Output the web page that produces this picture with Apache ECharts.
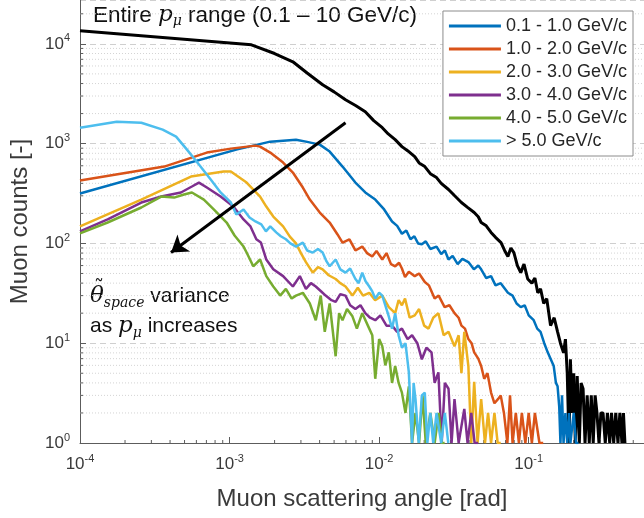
<!DOCTYPE html>
<html>
<head>
<meta charset="utf-8">
<script src="https://cdn.jsdelivr.net/npm/echarts@6/dist/echarts.min.js"></script>
<style>
  html, body { margin: 0; padding: 0; background: #fff; }
  #main { width: 644px; height: 518px; }
</style>
</head>
<body>
<div id="main"></div>
<script>
var dom = document.getElementById('main');
var myChart = echarts.init(dom);

// [scattering angle (rad), muon counts]
var entireRange = [[1.0e-4,13490],[1.4e-3,9770],[2.0e-3,8000],[2.65e-3,6610],[3.3e-3,5100],[4.19e-3,3890],[5.0e-3,3300],[5.96e-3,2750],[7.0e-3,2400],[8.08e-3,2090],[9.2e-3,1700],[1.05e-2,1445],[1.15e-2,1250],[1.28e-2,1096],[1.42e-2,933],[1.55e-2,850],[1.73e-2,741],[1.85e-2,640],[2.02e-2,589],[2.2e-2,500],[2.42e-2,457],[2.6e-2,400],[2.91e-2,347],[3.2e-2,300],[3.55e-2,257],[3.9e-2,230],[4.32e-2,204],[4.6e-2,185],[4.81e-2,162],[5.2e-2,150],[5.6e-2,129],[6.0e-2,115],[6.53e-2,102],[6.9e-2,85],[7.26e-2,74],[7.6e-2,90],[7.96e-2,81],[8.4e-2,60],[8.85e-2,51],[9.3e-2,62],[9.85e-2,44],[0.105,40],[0.11,45],[0.115,32],[0.12,35],[0.126,25],[0.132,28],[0.14,15],[0.148,18],[0.156,13],[0.163,10],[0.171,8],[0.176,11],[0.181,5],[0.186,1],[0.19,6.9],[0.195,2],[0.2,5],[0.205,1],[0.211,4.7],[0.218,1],[0.224,4],[0.231,3.5],[0.238,1],[0.246,3],[0.254,1],[0.262,3],[0.27,1],[0.278,3],[0.286,2],[0.295,1],[0.304,2],[0.314,2],[0.325,1],[0.336,2],[0.348,1],[0.358,2],[0.37,1],[0.382,2],[0.395,1],[0.407,2],[0.42,1],[0.43,2],[0.44,1]];

var p01to10 = [[1.0e-4,316],[1.11e-3,871],[1.87e-3,1047],[2.78e-3,1096],[3.24e-3,1047],[4.01e-3,977],[4.67e-3,832],[5.69e-3,589],[6.94e-3,407],[8.08e-3,324],[9.42e-3,275],[1.08e-2,219],[1.22e-2,166],[1.32e-2,150],[1.42e-2,125],[1.52e-2,135],[1.62e-2,110],[1.72e-2,118],[1.82e-2,100],[1.93e-2,98],[2.05e-2,105],[2.2e-2,88],[2.42e-2,93],[2.6e-2,78],[2.75e-2,85],[2.91e-2,69],[3.1e-2,75],[3.35e-2,62],[3.6e-2,70],[3.95e-2,65],[4.3e-2,55],[4.6e-2,60],[4.81e-2,55],[5.2e-2,45],[5.6e-2,47],[6.0e-2,38],[6.5e-2,40],[7.26e-2,32],[7.8e-2,30],[8.3e-2,25],[8.85e-2,23],[9.4e-2,24],[0.1,19],[0.108,17],[0.114,14],[0.12,13],[0.127,10],[0.134,8.1],[0.14,7],[0.147,5.9],[0.152,4],[0.156,3.7],[0.16,2.3],[0.163,1],[0.167,3],[0.171,1],[0.176,2],[0.181,1],[0.186,2],[0.19,1],[0.2,2],[0.207,1],[0.215,1]];

var p10to20 = [[1.0e-4,427],[3.66e-4,589],[7.05e-4,813],[1.02e-3,891],[1.49e-3,955],[1.6e-3,933],[1.87e-3,813],[2.28e-3,646],[2.65e-3,513],[3.09e-3,363],[3.44e-3,275],[4.01e-3,204],[4.67e-3,162],[5.27e-3,123],[5.69e-3,102],[6.33e-3,110],[6.94e-3,85],[7.71e-3,93],[8.3e-3,80],[8.99e-3,74],[9.6e-3,84],[1.05e-2,69],[1.12e-2,80],[1.2e-2,62],[1.28e-2,59],[1.36e-2,64],[1.42e-2,56],[1.49e-2,46],[1.58e-2,52],[1.73e-2,47],[1.85e-2,50],[2.02e-2,41],[2.15e-2,38],[2.35e-2,28],[2.5e-2,30],[2.74e-2,23],[2.95e-2,24],[3.19e-2,20],[3.4e-2,18],[3.55e-2,15],[3.75e-2,14],[3.95e-2,11],[4.15e-2,10],[4.32e-2,8.1],[4.6e-2,7],[4.81e-2,5.9],[5.04e-2,4.4],[5.3e-2,5],[5.6e-2,3.2],[5.9e-2,2.5],[6.23e-2,2.75],[6.5e-2,3],[6.83e-2,2],[7.2e-2,1],[7.5e-2,3],[7.8e-2,1],[8.2e-2,2],[8.6e-2,1],[9.0e-2,2],[9.5e-2,1],[0.1,2],[0.105,1],[0.11,2],[0.118,1],[0.125,1]];

var p20to30 = [[1.0e-4,148],[2.57e-4,275],[5.52e-4,468],[9.13e-4,525],[1.02e-3,525],[1.3e-3,407],[1.6e-3,295],[1.76e-3,234],[1.96e-3,186],[2.28e-3,148],[2.53e-3,117],[2.78e-3,100],[3.0e-3,80],[3.24e-3,65],[3.6e-3,51],[3.9e-3,58],[4.19e-3,55],[4.6e-3,48],[5.12e-3,44],[5.5e-3,40],[5.96e-3,37],[6.63e-3,30],[7.2e-3,36],[7.8e-3,30],[8.59e-3,32],[9.4e-3,27],[1.05e-2,30],[1.16e-2,23],[1.28e-2,20],[1.35e-2,27],[1.42e-2,24],[1.49e-2,28],[1.6e-2,18],[1.73e-2,19],[1.85e-2,22],[2.0e-2,15],[2.14e-2,14],[2.3e-2,18],[2.49e-2,20],[2.7e-2,12],[2.91e-2,13],[3.19e-2,9.3],[3.4e-2,12],[3.55e-2,5],[3.71e-2,13],[3.95e-2,5.9],[4.13e-2,1],[4.32e-2,4.1],[4.55e-2,1],[4.81e-2,2.75],[5.1e-2,1],[5.35e-2,2],[5.6e-2,1],[5.9e-2,2],[6.2e-2,1],[6.5e-2,1]];

var p30to40 = [[1.0e-4,132],[1.53e-4,174],[2.57e-4,257],[3.49e-4,295],[4.73e-4,324],[5.6e-4,372],[6.24e-4,407],[7.05e-4,363],[8.71e-4,295],[1.06e-3,234],[1.24e-3,174],[1.38e-3,148],[1.51e-3,110],[1.62e-3,102],[1.76e-3,69],[1.96e-3,55],[2.28e-3,47],[2.65e-3,37],[2.95e-3,47],[3.24e-3,35],[3.5e-3,40],[3.77e-3,37],[4.1e-3,33],[4.39e-3,30],[4.8e-3,27],[5.12e-3,26],[5.5e-3,31],[5.96e-3,30],[6.4e-3,24],[6.94e-3,22],[7.5e-3,24],[8.08e-3,20],[8.7e-3,18],[9.42e-3,17],[1.02e-2,19],[1.12e-2,15],[1.22e-2,15],[1.32e-2,13],[1.42e-2,14],[1.55e-2,11],[1.66e-2,12],[1.8e-2,10],[1.93e-2,6.9],[2.07e-2,9],[2.24e-2,8.1],[2.35e-2,4],[2.49e-2,5.1],[2.62e-2,1],[2.75e-2,4],[2.91e-2,3.5],[3.05e-2,1],[3.19e-2,2.75],[3.4e-2,1],[3.71e-2,2.2],[3.9e-2,1],[4.13e-2,2],[4.35e-2,1],[4.59e-2,1]];

var p40to50 = [[1.0e-4,126],[1.53e-4,162],[2.57e-4,229],[3.49e-4,295],[4.26e-4,288],[4.96e-4,309],[5.6e-4,324],[6.73e-4,275],[7.84e-4,219],[9.56e-4,162],[1.08e-3,120],[1.24e-3,93],[1.3e-3,81],[1.44e-3,59],[1.6e-3,69],[1.76e-3,47],[1.96e-3,37],[2.18e-3,30],[2.38e-3,35],[2.6e-3,28],[2.78e-3,30],[3.09e-3,32],[3.44e-3,25],[3.77e-3,17],[4.07e-3,30],[4.33e-3,13],[4.67e-3,25],[5.12e-3,7.4],[5.4e-3,20],[5.69e-3,17],[6.1e-3,22],[6.63e-3,18.6],[7.1e-3,14],[7.71e-3,20],[8.59e-3,14],[9.0e-3,12],[9.42e-3,4.4],[1.0e-2,11],[1.05e-2,9.3],[1.1e-2,6],[1.16e-2,8.1],[1.22e-2,4],[1.28e-2,5.9],[1.35e-2,4],[1.42e-2,3.2],[1.5e-2,2],[1.58e-2,3.7],[1.66e-2,1],[1.75e-2,2],[1.85e-2,1],[1.95e-2,3],[2.05e-2,1],[2.2e-2,2],[2.35e-2,1],[2.5e-2,2],[2.62e-2,1],[2.74e-2,1]];

var pAbove50 = [[1.0e-4,1445],[1.76e-4,1660],[2.57e-4,1620],[3.57e-4,1380],[4.39e-4,1175],[5.19e-4,871],[6.24e-4,617],[7.48e-4,437],[8.71e-4,324],[1.02e-3,257],[1.11e-3,195],[1.24e-3,219],[1.36e-3,182],[1.49e-3,166],[1.63e-3,155],[1.75e-3,132],[1.87e-3,148],[2.05e-3,129],[2.2e-3,118],[2.38e-3,110],[2.55e-3,100],[2.78e-3,93],[3.09e-3,102],[3.3e-3,85],[3.6e-3,81],[3.9e-3,88],[4.19e-3,81],[4.45e-3,66],[4.67e-3,59],[5.12e-3,69],[5.5e-3,55],[5.96e-3,51],[6.4e-3,56],[6.94e-3,44],[7.3e-3,40],[7.71e-3,51],[8.1e-3,42],[8.59e-3,37],[9.0e-3,33],[9.42e-3,28],[1.0e-2,32],[1.05e-2,30],[1.1e-2,24],[1.16e-2,18.6],[1.22e-2,14],[1.28e-2,20],[1.35e-2,12],[1.42e-2,9],[1.5e-2,10],[1.58e-2,5.1],[1.66e-2,1],[1.7e-2,4],[1.75e-2,2.75],[1.84e-2,1],[1.93e-2,3],[2.02e-2,3.2],[2.1e-2,1],[2.2e-2,2],[2.3e-2,1],[2.42e-2,2],[2.6e-2,1],[2.75e-2,2],[2.9e-2,1]];

var seriesNames = ['0.1 - 1.0 GeV/c', '1.0 - 2.0 GeV/c', '2.0 - 3.0 GeV/c', '3.0 - 4.0 GeV/c', '4.0 - 5.0 GeV/c', '> 5.0 GeV/c'];
var seriesData = [p01to10, p10to20, p20to30, p30to40, p40to50, pAbove50];
var colors = ['#0072BD', '#D95319', '#EDB120', '#7E2F8E', '#77AC30', '#4DBEEE'];

// minor tick mantissas and decades for the log axes
var mantissas = [2, 3, 4, 5, 6, 7, 8, 9];
var xDecades = [1e-4, 1e-3, 1e-2, 1e-1];
var yDecades = [1, 10, 100, 1000, 10000];
var xMin = 1e-4, xMax = 0.59, yMin = 1, yMax = 27500;

var axisColor = '#5c5c5c';
var labelColor = '#3a3a3a';
var font = 'Liberation Sans, Arial, sans-serif';
var mathFont = 'DejaVu Serif, serif';

var minorData = [];
yDecades.forEach(function (d) {
	mantissas.forEach(function (m) {
		if (m * d < yMax) minorData.push([xMin, m * d, 0]);
	});
});
xDecades.forEach(function (d) {
	mantissas.forEach(function (m) {
		if (m * d < xMax) minorData.push([m * d, yMin, 1]);
	});
});

var powFormatter = function (v) {
	var e = Math.round(Math.log10(v));
	return '{b|10}{s|' + e + '}';
};
var powRich = {
	b: { fontSize: 17, lineHeight: 22, color: labelColor, fontFamily: font },
	s: { fontSize: 11, lineHeight: 11, verticalAlign: 'top', color: labelColor, fontFamily: font }
};

var annoRich = {
	n: { fontSize: 21, lineHeight: 28, fill: '#111', fontFamily: font },
	it: { fontSize: 23, lineHeight: 28, fill: '#111', fontStyle: 'italic', fontFamily: mathFont },
	sb: { fontSize: 14, lineHeight: 14, verticalAlign: 'bottom', fill: '#111', fontStyle: 'italic', fontFamily: mathFont },
	tl: { fontSize: 20, lineHeight: 20, fill: '#111', fontFamily: mathFont }
};

var series = [{
	name: 'minor',
	type: 'custom',
	silent: true,
	coordinateSystem: 'cartesian2d',
	data: minorData,
	encode: { x: 0, y: 1 },
	renderItem: function (params, api) {
		var cs = params.coordSys;
		var p = api.coord([api.value(0), api.value(1)]);
		if (api.value(2) === 0) {
			return {
				type: 'group',
				children: [{
					type: 'line',
					shape: { x1: cs.x, y1: p[1], x2: cs.x + cs.width, y2: p[1] },
					style: { stroke: '#d4d4d4', lineWidth: 1, lineDash: [1, 2] }
				}, {
					type: 'line',
					shape: { x1: cs.x, y1: p[1], x2: cs.x + 3, y2: p[1] },
					style: { stroke: axisColor, lineWidth: 1 }
				}]
			};
		}
		var yb = cs.y + cs.height;
		return {
			type: 'line',
			shape: { x1: p[0], y1: yb, x2: p[0], y2: yb - 3 },
			style: { stroke: axisColor, lineWidth: 1 }
		};
	}
}, {
	name: 'Entire range',
	type: 'line',
	data: entireRange,
	symbol: 'none',
	silent: true,
	lineStyle: { color: '#000', width: 3 },
	itemStyle: { color: '#000' },
	markLine: {
		silent: true,
		symbol: ['none', 'arrow'],
		symbolSize: 16,
		label: { show: false },
		lineStyle: { color: '#000', width: 3, type: 'solid' },
		data: [[{ coord: [5.96e-3, 1620] }, { coord: [4.06e-4, 81] }]]
	}
}];

for (var i = 0; i < seriesData.length; i++) {
	series.push({
		name: seriesNames[i],
		type: 'line',
		data: seriesData[i],
		symbol: 'none',
		silent: true,
		lineStyle: { color: colors[i], width: 2.5 },
		itemStyle: { color: colors[i] }
	});
}

var option = {
	backgroundColor: '#fff',
	animation: false,
	grid: { left: 75, right: 0, top: 0, bottom: 75 },
	legend: {
		data: seriesNames,
		orient: 'vertical',
		right: 11,
		top: 11,
		padding: [6, 6, 6, 6],
		itemGap: 5,
		itemWidth: 52,
		itemHeight: 3,
		icon: 'rect',
		backgroundColor: '#fff',
		borderColor: '#8c8c8c',
		borderWidth: 1,
		textStyle: { fontSize: 18, color: '#262626', fontFamily: font }
	},
	xAxis: {
		type: 'log',
		min: xMin,
		max: xMax,
		name: 'Muon scattering angle [rad]',
		nameLocation: 'middle',
		nameGap: 44,
		nameTextStyle: { fontSize: 24, color: labelColor, fontFamily: font },
		axisLine: { lineStyle: { color: axisColor } },
		axisTick: { inside: true, length: 6, lineStyle: { color: axisColor } },
		axisLabel: { margin: 10, showMaxLabel: false, formatter: powFormatter, rich: powRich },
		splitLine: { show: false }
	},
	yAxis: {
		type: 'log',
		min: yMin,
		max: yMax,
		name: 'Muon counts [-]',
		nameLocation: 'middle',
		nameGap: 48,
		nameTextStyle: { fontSize: 24, color: labelColor, fontFamily: font },
		axisLine: { show: true, lineStyle: { color: axisColor } },
		axisTick: { show: true, inside: true, length: 6, lineStyle: { color: axisColor } },
		axisLabel: { margin: 10, showMaxLabel: false, formatter: powFormatter, rich: powRich },
		splitLine: { show: true, lineStyle: { color: '#cfcfcf', type: [6, 4] } }
	},
	graphic: [{
		type: 'text',
		left: 93,
		top: 4,
		silent: true,
		style: {
			text: '{n|Entire }{it|p}{sb|\u03BC}{n| range (0.1 \u2013 10 GeV/c)}',
			rich: {
				n: { fontSize: 22.5, lineHeight: 26, fill: '#111', fontFamily: font },
				it: { fontSize: 23, lineHeight: 26, fill: '#111', fontStyle: 'italic', fontFamily: mathFont },
				sb: { fontSize: 14, lineHeight: 14, verticalAlign: 'bottom', fill: '#111', fontStyle: 'italic', fontFamily: mathFont }
			}
		}
	}, {
		type: 'text',
		left: 90,
		top: 285,
		silent: true,
		style: {
			text: '{it|\u03B8}{sb|space}{n| variance}',
			rich: annoRich
		}
	}, {
		// tilde accent over theta
		type: 'text',
		left: 94,
		top: 279,
		silent: true,
		style: {
			text: '{tl|\u02DC}',
			rich: annoRich
		}
	}, {
		type: 'text',
		left: 90,
		top: 315,
		silent: true,
		style: {
			text: '{n|as }{it|p}{sb|\u03BC}{n| increases}',
			rich: annoRich
		}
	}],
	series: series
};

myChart.setOption(option);
</script>
</body>
</html>
